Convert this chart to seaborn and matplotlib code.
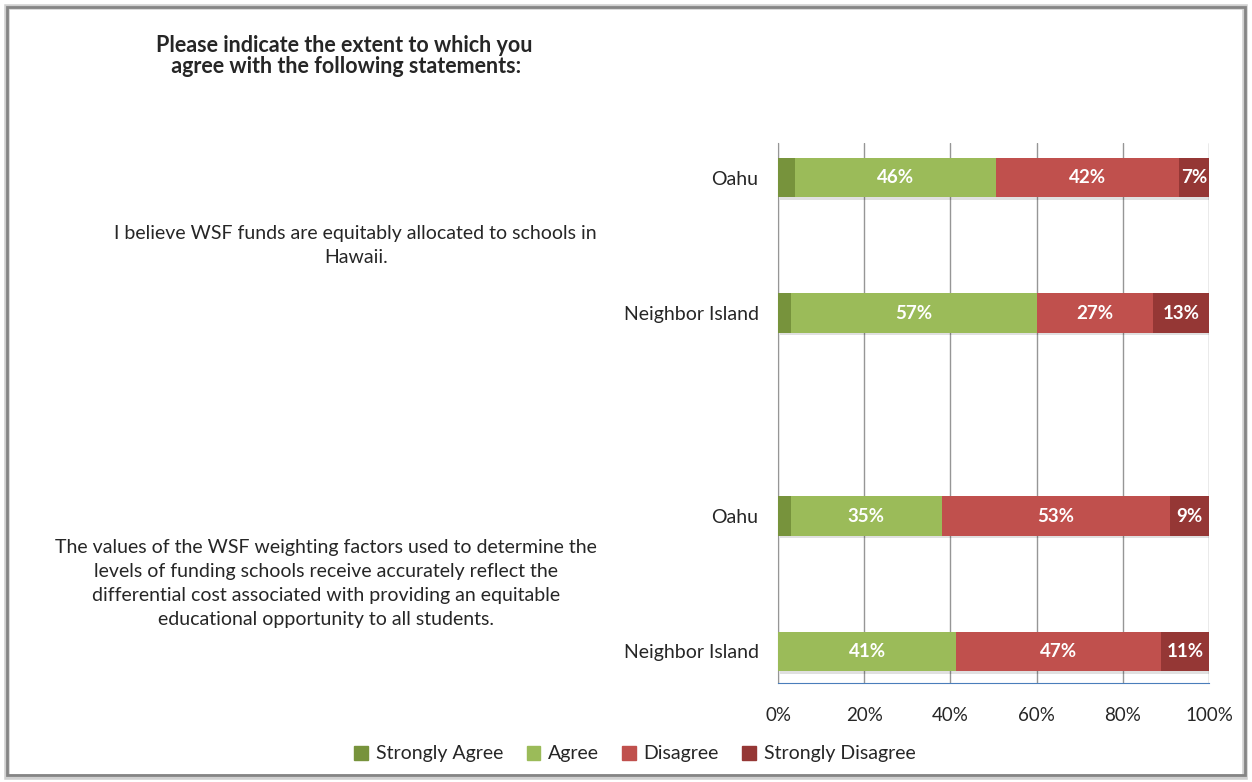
import pandas as pd
import seaborn as sns
from matplotlib import pyplot as plt
from matplotlib.patches import Rectangle
import matplotlib.patheffects as pe

# survey results (percent of respondents)
rows = ['Oahu', 'Neighbor Island', 'Oahu', 'Neighbor Island']
strongly_agree = [4, 3, 3, 0]
agree = [46, 57, 35, 41]
disagree = [42, 27, 53, 47]
strongly_disagree = [7, 13, 9, 11]

categories = ['Strongly Agree', 'Agree', 'Disagree', 'Strongly Disagree']
colors = ['#77933C', '#9BBB59', '#C0504D', '#953735']

statements = [
    'I believe WSF funds are equitably allocated to schools in\nHawaii.',
    'The values of the WSF weighting factors used to determine the\n'
    'levels of funding schools receive accurately reflect the\n'
    'differential cost associated with providing an equitable\n'
    'educational opportunity to all students.',
]
title = 'Please indicate the extent to which you\n agree with the following statements:'

# layout: vertical slot of each bar (gap between the two statements)
row_pos = [0, 1, 2.5, 3.5]


def build_frame():
    """ Build a table with the cumulative (100% stacked) ends """
    df = pd.DataFrame({
        'pos': row_pos,
        'Strongly Agree': strongly_agree,
        'Agree': agree,
        'Disagree': disagree,
        'Strongly Disagree': strongly_disagree,
    })
    total = df[categories].sum(axis=1)
    cum = df[categories].cumsum(axis=1).div(total, axis=0) * 100
    share = df[categories].div(total, axis=0) * 100
    return df, cum, share


def main():
    sns.set_style('white')
    plt.rcParams['font.family'] = ['Lato', 'DejaVu Sans']

    df, cum, share = build_frame()

    fig = plt.figure(figsize=(12.52, 7.82), dpi=100)
    ax = fig.add_axes([778 / 1252, 1 - 683 / 782, 431 / 1252, 540 / 782])

    # draw from the full bar down to the first segment so they overlap as a stack
    for i in range(len(categories) - 1, -1, -1):
        plot_df = pd.DataFrame({'pos': df['pos'], 'end': cum[categories[i]]})
        sns.barplot(data=plot_df, x='end', y='pos', orient='y', native_scale=True,
                    width=0.29, color=colors[i], saturation=1, errorbar=None,
                    linewidth=0, ax=ax, zorder=3)
        if i == len(categories) - 1:
            for bar in ax.patches:
                bar.set_path_effects([pe.SimplePatchShadow(offset=(1.5, -2), alpha=0.12,
                                                           shadow_rgbFace='#000000'),
                                      pe.Normal()])

    # value labels in the middle of each segment
    for r in range(len(rows)):
        for i, cat in enumerate(categories):
            value = df[cat][r]
            if cat == 'Strongly Agree' or value == 0:
                continue
            mid = cum[cat][r] - share[cat][r] / 2
            ax.text(mid, row_pos[r], f'{value}%', ha='center', va='center',
                    color='white', fontsize=13.5, fontweight='bold', zorder=5)

    ax.set_xlim(0, 100)
    ax.set_ylim(3.733, -0.256)
    ax.set_xticks(range(0, 101, 20))
    ax.set_xticklabels([f'{t}%' for t in range(0, 101, 20)], fontsize=13.5)
    ax.set_yticks(row_pos)
    ax.set_yticklabels(rows, fontsize=14)
    ax.set_xlabel('')
    ax.set_ylabel('')
    ax.grid(axis='x', color='#969696', linewidth=1, zorder=0)
    ax.grid(axis='y', visible=False)
    ax.set_axisbelow(True)

    for side in ['top', 'right']:
        ax.spines[side].set_visible(False)
    ax.spines['left'].set_color('#969696')
    ax.spines['bottom'].set_color('#4A7EBB')
    ax.tick_params(axis='x', direction='out', length=5, color='#4A7EBB', pad=12)
    ax.tick_params(axis='y', length=0, pad=14)

    # statement texts next to each pair of bars
    for k, stmt in enumerate(statements):
        ax.text(-181 / 431 * 100, (row_pos[2 * k] + row_pos[2 * k + 1]) / 2, stmt,
                ha='right', va='center', multialignment='center', fontsize=14,
                linespacing=1.5)

    fig.text(344 / 1252, 1 - 56 / 782, title, ha='center', va='center',
             fontsize=15.5, fontweight='bold', linespacing=1.05)

    handles = [Rectangle((0, 0), 1, 1, color=c) for c in colors]
    fig.legend(handles, categories, loc='center', ncol=4, frameon=False,
               bbox_to_anchor=(635 / 1252, 1 - 754 / 782), fontsize=14,
               handlelength=0.7, handleheight=0.7, handletextpad=0.4,
               columnspacing=1.2)

    # chart area border
    fig.patches.append(Rectangle((7 / 1252, 5 / 782), 1238 / 1252, 770 / 782,
                                 transform=fig.transFigure, fill=False,
                                 edgecolor='#D0D0D0', linewidth=4, zorder=0))
    fig.patches.append(Rectangle((7 / 1252, 7 / 782), 1238 / 1252, 768 / 782,
                                 transform=fig.transFigure, fill=False,
                                 edgecolor='#858585', linewidth=2, zorder=1))

    fig.savefig('out.png', dpi=100)


if __name__ == "__main__":
    main()
